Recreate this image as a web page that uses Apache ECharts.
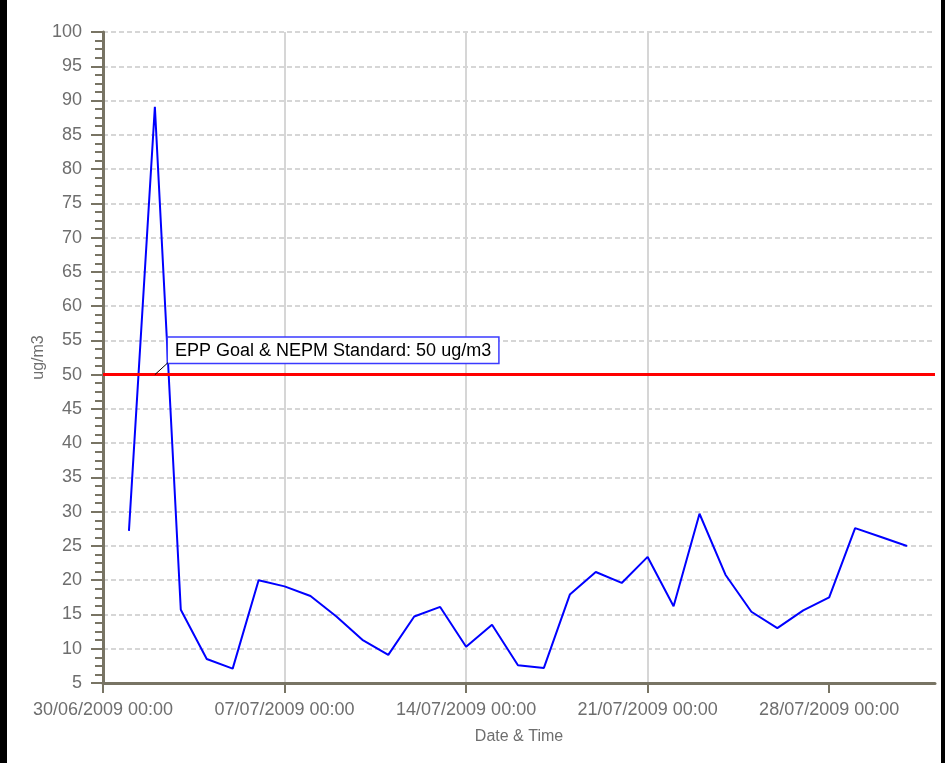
<!DOCTYPE html>
<html>
<head>
<meta charset="utf-8">
<script src="https://cdn.jsdelivr.net/npm/echarts@6/dist/echarts.min.js"></script>
<style>
  html, body { margin: 0; padding: 0; background: #000; }
  #chart { position: absolute; left: 7px; top: 0; width: 934px; height: 763px; background: #fff; }
</style>
</head>
<body>
<div id="chart"></div>
<script>
// daily PM10 readings, July 2009
const dates = [
  "01/07/2009", "02/07/2009", "03/07/2009", "04/07/2009", "05/07/2009", "06/07/2009",
  "07/07/2009", "08/07/2009", "09/07/2009", "10/07/2009", "11/07/2009", "12/07/2009",
  "13/07/2009", "14/07/2009", "15/07/2009", "16/07/2009", "17/07/2009", "18/07/2009",
  "19/07/2009", "20/07/2009", "21/07/2009", "22/07/2009", "23/07/2009", "24/07/2009",
  "25/07/2009", "26/07/2009", "27/07/2009", "28/07/2009", "29/07/2009", "30/07/2009",
  "31/07/2009"
];
const values = [
  27.2, 89.1, 15.7, 8.5, 7.1, 20.0,
  19.1, 17.7, 14.7, 11.3, 9.1, 14.7,
  16.1, 10.3, 13.5, 7.6, 7.2, 17.9,
  21.2, 19.6, 23.4, 16.2, 29.7, 20.8,
  15.4, 13.0, 15.6, 17.5, 27.6, 26.3,
  25.0
];
const goalValue = 50;
const goalLabel = "EPP Goal & NEPM Standard: 50 ug/m3";
const xTickDays = [0, 7, 14, 21, 28];

const DAY = 86400000;
const start = Date.UTC(2009, 5, 30);
function toDay(s) {
  const p = s.split("/");
  return (Date.UTC(+p[2], +p[1] - 1, +p[0]) - start) / DAY;
}
function fmtDay(v) {
  const d = new Date(start + v * DAY);
  const pad = n => (n < 10 ? "0" : "") + n;
  return pad(d.getUTCDate()) + "/" + pad(d.getUTCMonth() + 1) + "/" + d.getUTCFullYear() + " 00:00";
}
const points = dates.map((d, i) => [toDay(d), values[i]]);

const axisColor = "#787464";
const textColor = "#6e6e6e";
const font = "Liberation Sans";

let myChart = echarts.init(document.getElementById("chart"));
myChart.setOption({
  animation: false,
  grid: { left: 96, right: 6, top: 32, bottom: 80 },
  xAxis: {
    type: "value",
    min: 0,
    max: 32.08,
    interval: 7,
    name: "Date & Time",
    nameLocation: "middle",
    nameGap: 46,
    nameTextStyle: { color: textColor, fontSize: 16, fontFamily: font },
    axisLine: { lineStyle: { color: axisColor, width: 3 } },
    axisTick: { customValues: xTickDays, length: 10, lineStyle: { color: axisColor, width: 2 } },
    axisLabel: {
      customValues: xTickDays,
      formatter: fmtDay,
      color: textColor, fontSize: 18, fontFamily: font, margin: 18
    },
    splitLine: { show: true, showMaxLine: false, lineStyle: { color: "#d6d6d6", width: 2 } }
  },
  yAxis: {
    type: "value",
    min: 5,
    max: 100,
    interval: 5,
    name: "ug/m3",
    nameLocation: "middle",
    nameGap: 56,
    nameMoveOverlap: false,
    nameTextStyle: { color: textColor, fontSize: 16, fontFamily: font },
    axisLine: { show: true, lineStyle: { color: axisColor, width: 3 } },
    axisTick: { show: true, length: 12, lineStyle: { color: axisColor, width: 2 } },
    minorTick: { show: true, splitNumber: 4, length: 8, lineStyle: { color: axisColor, width: 2 } },
    axisLabel: { color: textColor, fontSize: 18, fontFamily: font, margin: 21 },
    splitLine: { lineStyle: { color: "#d6d6d6", width: 2, type: [5, 3] } }
  },
  series: [
    {
      name: "PM10",
      type: "line",
      data: points,
      showSymbol: false,
      symbol: "none",
      lineStyle: { color: "#0000ff", width: 2 },
      markLine: {
        silent: true,
        symbol: "none",
        lineStyle: { color: "#ff0000", width: 3, type: "solid" },
        label: {
          position: "insideStartTop",
          distance: [65, 12],
          formatter: goalLabel,
          color: "#000",
          fontSize: 18,
          fontFamily: font,
          backgroundColor: "#fff",
          borderColor: "#3a3aff",
          borderWidth: 1.5,
          padding: [4, 7, 3, 7]
        },
        data: [{ yAxis: goalValue }]
      }
    }
  ]
});

// short leader line from the goal line to the label box
const p0 = myChart.convertToPixel({ gridIndex: 0 }, [2, goalValue]);
const p1 = myChart.convertToPixel({ gridIndex: 0 }, [0, goalValue]);
myChart.setOption({
  graphic: [{
    type: "line",
    shape: { x1: p0[0], y1: p0[1], x2: p1[0] + 65, y2: p1[1] - 12 },
    style: { stroke: "#000", lineWidth: 1 },
    z: 100
  }]
});
</script>
</body>
</html>
